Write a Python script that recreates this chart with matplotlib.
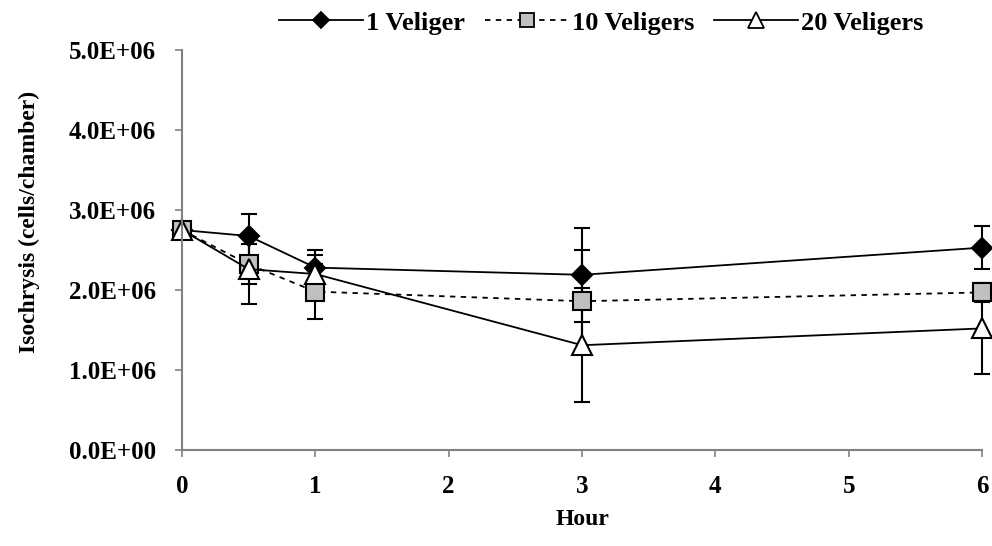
import matplotlib
matplotlib.use("Agg")
import matplotlib.pyplot as plt
from matplotlib.lines import Line2D
from matplotlib.ticker import FuncFormatter

# Horas de muestreo
hours = [0, 0.5, 1, 3, 6]

# Isochrysis (cells/chamber), media y error
one_veliger = [2.75e6, 2.675e6, 2.28e6, 2.19e6, 2.53e6]
one_veliger_err = [0.0, 0.27e6, 0.22e6, 0.59e6, 0.27e6]

ten_veligers = [2.75e6, 2.32e6, 1.98e6, 1.86e6, 1.97e6]
ten_veligers_err = [0.0, 0.25e6, 0.34e6, 0.64e6, 0.12e6]

twenty_veligers = [2.75e6, 2.26e6, 2.20e6, 1.31e6, 1.52e6]
twenty_veligers_err = [0.0, 0.44e6, 0.24e6, 0.71e6, 0.57e6]

x_ticks = [0, 1, 2, 3, 4, 5, 6]
y_ticks = [0, 1e6, 2e6, 3e6, 4e6, 5e6]

plt.rcParams['font.family'] = ['Liberation Serif', 'DejaVu Serif']
plt.rcParams['font.weight'] = 'bold'

fig = plt.figure(figsize=(9.92, 5.46), dpi=100)
fig.patch.set_facecolor('white')
ax = fig.add_axes([0.1835, 0.1758, 0.8065, 0.7326])

common = dict(color='black', ecolor='black', elinewidth=1.5, capsize=6,
              capthick=1.5, linewidth=1.3, markeredgecolor='black',
              markeredgewidth=1.5, clip_on=False)

estilos = [
    ('1 Veliger', one_veliger, one_veliger_err, 'D', 10.5, 'black', '-'),
    ('10 Veligers', ten_veligers, ten_veligers_err, 's', 13, '#c0c0c0', (0, (3, 3))),
    ('20 Veligers', twenty_veligers, twenty_veligers_err, '^', 14, 'white', '-'),
]

handles = []
for nombre, vals, errs, mk, ms, fc, ls in estilos:
    ax.errorbar(hours, vals, yerr=errs, marker=mk, markersize=ms,
                markerfacecolor=fc, linestyle=ls, **common)
    handles.append(Line2D([0], [0], color='black', linewidth=1.3, linestyle=ls,
                          marker=mk, markersize=ms * 0.8, markerfacecolor=fc,
                          markeredgecolor='black', markeredgewidth=1.3,
                          label=nombre))

ax.set_xlim(0, 6)
ax.set_ylim(0, 5e6)
ax.set_xticks(x_ticks)
ax.set_yticks(y_ticks)
ax.yaxis.set_major_formatter(FuncFormatter(lambda v, p: f"{v:.1E}"))

for side in ['top', 'right']:
    ax.spines[side].set_visible(False)
for side in ['left', 'bottom']:
    ax.spines[side].set_color('#808080')
    ax.spines[side].set_linewidth(1.5)

ax.tick_params(axis='both', direction='out', length=5, width=1.2,
               colors='#808080', labelcolor='black', labelsize=18)
ax.tick_params(axis='x', pad=13)
ax.tick_params(axis='y', pad=14)

ax.set_xlabel('Hour', fontsize=17, fontweight='bold', labelpad=8)
ax.set_ylabel('Isochrysis (cells/chamber)', fontsize=17, fontweight='bold')
ax.yaxis.set_label_coords(-0.178, 0.57)

leg = fig.legend(handles=handles, loc='center', bbox_to_anchor=(0.606, 0.958),
                 ncol=3, frameon=False, fontsize=19, handlelength=3.2,
                 handletextpad=0.1, columnspacing=0.75)
for t in leg.get_texts():
    t.set_fontweight('bold')

fig.savefig('out.png', dpi=100, facecolor='white')
